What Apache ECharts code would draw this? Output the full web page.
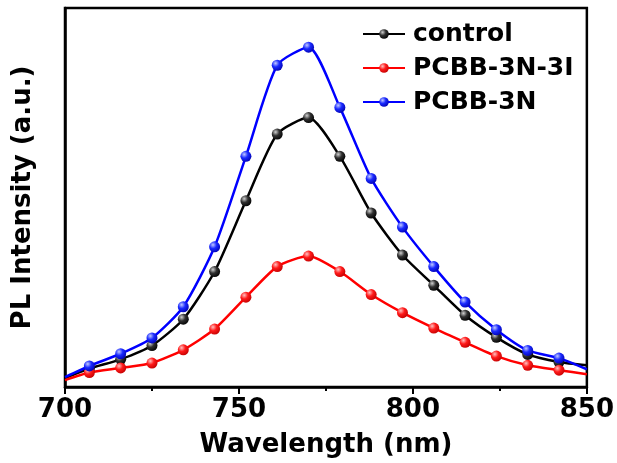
<!DOCTYPE html>
<html>
<head>
<meta charset="utf-8">
<script src="https://cdn.jsdelivr.net/npm/echarts@6/dist/echarts.min.js"></script>
<style>html,body{margin:0;padding:0;background:#fff;}#c{width:617px;height:463px;}</style>
</head>
<body>
<div id="c"></div>
<script>
// Wavelength (nm); first and last entries are curve ends without markers
var wavelengths = [700, 707, 716, 725, 734, 743, 752, 761, 770, 779, 788, 797, 806, 815, 824, 833, 842, 850];
var control   = [9, 18.7, 28, 42, 68.7, 117, 188.7, 256.3, 273, 233.7, 176.3, 133.7, 103, 72.7, 50.3, 33, 25.3, 22];
var pcbb3n3i  = [7, 14.7, 19.3, 24.3, 37.7, 58.7, 91, 122, 132.7, 117, 93.7, 75.3, 59.7, 45.3, 31.3, 22, 17, 13];
var pcbb3n    = [10, 21.3, 33.7, 49.7, 81.3, 142, 233.7, 326, 344.3, 283.3, 211.3, 162, 122, 86, 58, 37, 29.3, 18];
var seriesNames = ['control', 'PCBB-3N-3I', 'PCBB-3N'];
var xTicks = [700, 750, 800, 850];

var FONT = 'DejaVu Sans';

function sphere(light, mid, dark) {
  return {
    type: 'radial', x: 0.35, y: 0.32, r: 0.75,
    colorStops: [
      {offset: 0, color: light},
      {offset: 0.45, color: mid},
      {offset: 1, color: dark}
    ]
  };
}

function build(vals) {
  return wavelengths.map(function (w, i) {
    var item = {value: [w, vals[i]]};
    if (i === 0 || i === wavelengths.length - 1) item.symbol = 'none';
    return item;
  });
}

var styles = [
  {line: '#000000', fill: sphere('#d0d0d0', '#303030', '#000000')},
  {line: '#ff0000', fill: sphere('#ffc0c0', '#ff1a1a', '#c00000')},
  {line: '#0000ff', fill: sphere('#c0c8ff', '#1a2aff', '#0000b0')}
];
var datasets = [control, pcbb3n3i, pcbb3n];

var chart = echarts.init(document.getElementById('c'), null, {renderer: 'canvas'});
chart.setOption({
  animation: false,
  backgroundColor: '#ffffff',
  grid: {
    left: 65, right: 28, top: 8, bottom: 71,
    show: true, borderColor: '#000', borderWidth: 2.5, backgroundColor: 'transparent'
  },
  legend: {
    left: 357, top: 16,
    orient: 'vertical',
    itemWidth: 42, itemHeight: 12,
    itemGap: 8,
    data: seriesNames,
    textStyle: {fontFamily: FONT, fontWeight: 'bold', fontSize: 25, color: '#000', lineHeight: 26, padding: [0, 0, 0, 3]}
  },
  xAxis: [{
    type: 'value', min: 700, max: 850, interval: 50, position: 'bottom',
    axisLine: {show: true, onZero: false, lineStyle: {color: '#000', width: 2.5}},
    axisTick: {show: true, length: 7, inside: false, lineStyle: {color: '#000', width: 2}},
    splitLine: {show: false},
    axisLabel: {
      fontFamily: FONT, fontWeight: 'bold', fontSize: 26, color: '#000', margin: 10,
      formatter: function (v) { return xTicks.indexOf(v) >= 0 ? String(v) : ''; }
    },
    name: 'Wavelength (nm)', nameLocation: 'middle', nameGap: 45,
    nameTextStyle: {fontFamily: FONT, fontWeight: 'bold', fontSize: 26, color: '#000'}
  }, {
    type: 'value', min: 700, max: 850, interval: 25, position: 'bottom', offset: 0,
    axisLine: {show: false, onZero: false},
    axisTick: {show: true, length: 4, inside: false, lineStyle: {color: '#000', width: 2}},
    axisLabel: {show: false},
    splitLine: {show: false}
  }],
  yAxis: {
    type: 'value', min: 0, max: 384,
    axisLine: {show: true, lineStyle: {color: '#000', width: 2.5}},
    axisTick: {show: false},
    axisLabel: {show: false},
    splitLine: {show: false},
    name: 'PL Intensity (a.u.)', nameLocation: 'middle', nameGap: 29,
    nameTextStyle: {fontFamily: FONT, fontWeight: 'bold', fontSize: 26, color: '#000'}
  },
  series: datasets.map(function (vals, k) {
    return {
      name: seriesNames[k],
      type: 'line',
      xAxisIndex: 0,
      smooth: 0.22,
      data: build(vals),
      symbol: 'circle',
      symbolSize: 11,
      lineStyle: {color: styles[k].line, width: 2.5},
      itemStyle: {color: styles[k].fill, borderWidth: 0},
      z: 2 + (k === 1 ? 0 : k)
    };
  })
});
</script>
</body>
</html>
